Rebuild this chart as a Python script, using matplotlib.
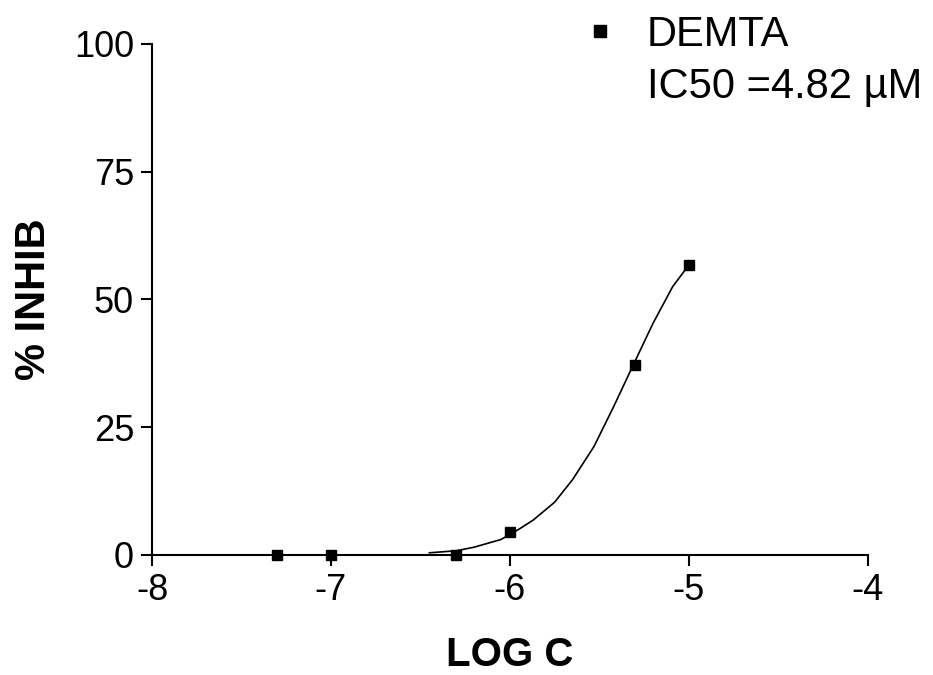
import matplotlib
matplotlib.use("Agg")
import matplotlib.pyplot as plt
from matplotlib.lines import Line2D

plt.rcParams['font.family'] = ['Liberation Sans', 'DejaVu Sans']

# measured points
log_c = [-7.3, -7.0, -6.3, -6.0, -5.3, -5.0]
inhib = [0.0, 0.0, 0.0, 4.5, 37.2, 56.7]

# fitted curve
fit_x = [-6.45, -6.3, -6.2, -6.05, -5.95, -5.87, -5.75, -5.65, -5.53, -5.42, -5.31, -5.2, -5.09, -5.0]
fit_y = [0.4, 0.8, 1.5, 3.0, 5.0, 6.8, 10.3, 14.7, 21.2, 29.0, 37.2, 45.3, 52.5, 56.7]

x_ticks = [-8, -7, -6, -5, -4]
y_ticks = [0, 25, 50, 75, 100]

fig = plt.figure(figsize=(9.33, 6.75), dpi=100)
ax = fig.add_axes([0.163, 0.178, 0.767, 0.757])

ax.plot(fit_x, fit_y, color='black', lw=1.2, zorder=2)
pts, = ax.plot(log_c, inhib, ls='none', marker='s', ms=7, color='black',
               zorder=3, clip_on=False)

ax.set_xlim(-8, -4)
ax.set_ylim(0, 100)
ax.set_xticks(x_ticks)
ax.set_yticks(y_ticks)
ax.set_xticklabels([str(t) for t in x_ticks])
ax.set_yticklabels([str(t) for t in y_ticks])

for s in ['top', 'right']:
    ax.spines[s].set_visible(False)
for s in ['left', 'bottom']:
    ax.spines[s].set_linewidth(1.5)
ax.tick_params(direction='out', length=8, width=1.5, labelsize=26, pad=5)

ax.set_xlabel('LOG C', fontsize=29, fontweight='bold', labelpad=20)
ax.set_ylabel('% INHIB', fontsize=30, fontweight='bold', labelpad=14)

# legend: marker + name, then the IC50 line underneath
blank = Line2D([], [], ls='none')
leg = fig.legend([pts, blank], ['DEMTA', 'IC50 =4.82 µM'],
                 loc='upper left', bbox_to_anchor=(587.5 / 933, 0.978),
                 frameon=False, fontsize=30, markerscale=8 / 7,
                 handlelength=0.6, handletextpad=0.83, labelspacing=0.3,
                 borderpad=0, borderaxespad=0)

fig.savefig('out.png', dpi=100)
